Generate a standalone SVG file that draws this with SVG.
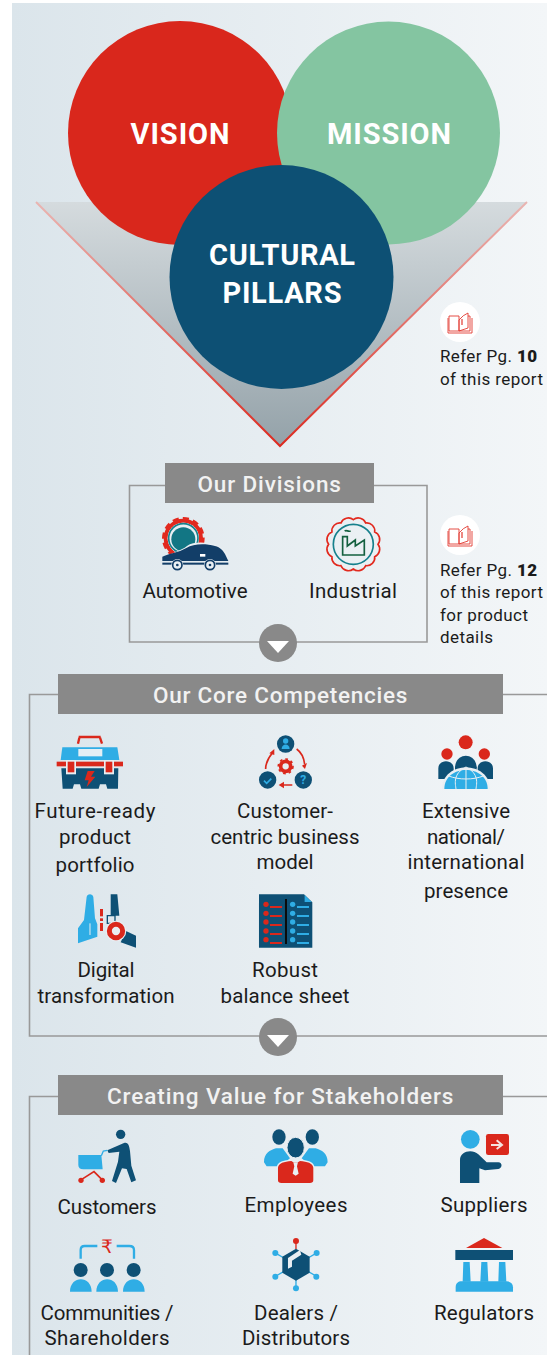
<svg xmlns="http://www.w3.org/2000/svg" width="547" height="1355" viewBox="0 0 547 1355">
<defs>
<linearGradient id="bg" x1="0" x2="1" y1="0" y2="0"><stop offset="0" stop-color="#dbe5eb"/><stop offset="1" stop-color="#f3f6f8"/></linearGradient>
<linearGradient id="tri" x1="0" x2="0" y1="0" y2="1"><stop offset="0" stop-color="#d5dbde"/><stop offset="1" stop-color="#94a2a9"/></linearGradient>
<linearGradient id="triS" x1="0" x2="0" y1="0" y2="1"><stop offset="0" stop-color="#e9b5b2"/><stop offset="1" stop-color="#dc2a20"/></linearGradient>
<g id="book" fill="none" stroke="#e23a31" stroke-width=".9"><path d="M-11 -7H-1V8H-11Z"/><path d="M-12 -5V10H12V-5"/><path d="M-1 8V-3Q3 -8 8 -10V5L-1 8M8 -7H10V8H-1"/><path d="M2 -4V2" stroke-width="1.2"/></g>
<g id="arrow"><circle r="19" fill="#898989"/><path d="M-11 -2H11L0 10Z" fill="#fff"/></g>
</defs>
<style>
text{font-family:"Roboto","Liberation Sans",sans-serif;fill:#1b1b1b;font-size:20.5px}
.m{text-anchor:middle}
.big{fill:#fff;font-weight:700;font-size:29px;text-anchor:middle}
.hd{fill:#f2f2f2;font-weight:500;font-size:22.5px;text-anchor:middle;letter-spacing:.6px}
.ref{font-size:17px}
.ref tspan{font-weight:900}
.bar{fill:#898989}
.line{fill:none;stroke:#999;stroke-width:1.6}
.dk{fill:#0e5075}.bl{fill:#2fade5}.rd{fill:#da281c}
</style>
<rect x="12" y="3" width="535" height="1352" fill="url(#bg)"/>

<g id="triangle"><path d="M36 202H527L280 446Z" fill="url(#tri)"/><path d="M36 202L280 446L527 202" fill="none" stroke="url(#triS)" stroke-width="2"/></g>
<g id="vision"><circle cx="180" cy="133" r="112" fill="#d9271c"/><text x="180" y="144" class="big" textLength="99">VISION</text></g>
<g id="mission"><circle cx="388.500" cy="133" r="111.500" fill="#84c5a1"/><text x="389" y="144" class="big" textLength="124">MISSION</text></g>
<g id="cultural-pillars"><circle cx="281.500" cy="277" r="112" fill="#0d5074"/><text x="282" y="265" class="big" textLength="146">CULTURAL</text><text x="282" y="303" class="big" textLength="119">PILLARS</text></g>

<g id="ref-10"><circle cx="460" cy="322" r="20" fill="#fff"/><use href="#book" x="460" y="323"/><text x="440" y="362" class="ref" textLength="97">Refer Pg. <tspan>10</tspan></text><text x="440" y="385" class="ref" textLength="103">of this report</text></g>

<g id="connectors">
<path class="line" d="M165 485.500H129.500V642H427V485.500H374"/>
<path class="line" d="M58 694.500H29.500V1036H547M503 694.500H547"/>
<path class="line" d="M58 1096.500H29.500V1355M503 1096.500H547"/>
<use href="#arrow" x="278" y="643"/>
<use href="#arrow" x="278" y="1037"/>
</g>

<g id="divisions"><rect class="bar" x="165" y="463" width="209" height="40"/><text x="269.500" y="492" class="hd" textLength="144">Our Divisions</text></g>
<g id="automotive"><g transform="translate(120 460) scale(.3333)">
<circle cx="190" cy="235" r="53" fill="none" stroke="#e2291e" stroke-width="12"/>
<circle cx="190" cy="235" r="58" fill="none" stroke="#e2291e" stroke-width="12" stroke-dasharray="18 12"/>
<circle cx="190" cy="235" r="47" fill="#e9eff3"/><circle cx="190" cy="235" r="44" fill="none" stroke="#16808c" stroke-width="5"/><circle cx="190" cy="238" r="36" fill="#127684"/>
<path d="M135 290c25-12 48-18 66-32 20-14 55-12 85-4 18 6 30 18 38 30v18H130z" fill="#e9eff3"/>
<path d="M127 303v-13c18-9 48-12 72-26 22-14 58-14 86-6 16 4 24 14 30 24l10 21z" fill="#123e68"/>
<rect x="240" y="282" width="16" height="8" fill="#fff"/><rect x="127" y="308" width="198" height="6" fill="#123e68"/>
<circle cx="172" cy="315" r="18" fill="#e9eff3"/><circle cx="172" cy="315" r="14" fill="none" stroke="#123e68" stroke-width="5"/><circle cx="172" cy="315" r="4" fill="#123e68"/>
<circle cx="270" cy="315" r="18" fill="#e9eff3"/><circle cx="270" cy="315" r="14" fill="none" stroke="#123e68" stroke-width="5"/><circle cx="270" cy="315" r="4" fill="#123e68"/>
</g><text x="195" y="598" class="m" textLength="105">Automotive</text></g>
<g id="industrial"><g transform="translate(120 460) scale(.3333)">
<path d="M774 253A24 24 0 0 1 764.100 290A24 24 0 0 1 737 317.100A24 24 0 0 1 700 327A24 24 0 0 1 663 317.100A24 24 0 0 1 635.900 290A24 24 0 0 1 626 253A24 24 0 0 1 635.900 216A24 24 0 0 1 663 188.900A24 24 0 0 1 700 179A24 24 0 0 1 737 188.900A24 24 0 0 1 764.100 216A24 24 0 0 1 774 253Z" fill="none" stroke="#e2291e" stroke-width="5"/>
<circle cx="700" cy="253" r="60" fill="none" stroke="#16808c" stroke-width="5"/>
<path d="M668 285V230H682V258L706 240V258L733 240V285Z M674 213c6-4 10 3 18 0" fill="none" stroke="#14603f" stroke-width="5"/>
</g><text x="353" y="598" class="m" textLength="88">Industrial</text></g>
<g id="ref-12"><circle cx="460" cy="535" r="20" fill="#fff"/><use href="#book" x="460" y="536"/><text x="440" y="576" class="ref" textLength="97">Refer Pg. <tspan>12</tspan></text><text x="440" y="598" class="ref" textLength="103">of this report</text><text x="440" y="621" class="ref" textLength="88">for product</text><text x="440" y="643" class="ref" textLength="53">details</text></g>

<g id="competencies"><rect class="bar" x="58" y="674" width="445" height="40"/><text x="280.500" y="703" class="hd" textLength="255">Our Core Competencies</text></g>
<g id="future-ready"><g transform="translate(20 725) scale(.3333)">
<path d="M176 36H242M178 38L174 56M240 38L246 56" fill="none" stroke="#da281c" stroke-width="7"/>
<path d="M127 67H292L298 105H122Z" class="bl"/><rect x="175" y="72" width="72" height="22" fill="#e4eff5"/>
<path d="M124 130H295L294 191H262L258 178H240L236 191H184L180 178H162L158 191H128Z" class="dk"/>
<rect x="110" y="110" width="199" height="14" class="rd"/><rect x="138" y="106" width="30" height="42" fill="#e9eff3"/><rect x="252" y="106" width="30" height="42" fill="#e9eff3"/><rect x="143" y="110" width="20" height="32" class="rd"/><rect x="257" y="110" width="20" height="32" class="rd"/>
<path d="M203 138H224L213 155H226L200 186L206 166H194Z" class="rd"/>
</g><text x="95" y="818" class="m" textLength="121">Future-ready</text><text x="95" y="844" class="m" textLength="72">product</text><text x="95" y="872" class="m" textLength="79">portfolio</text></g>
<g id="customer-centric"><g transform="translate(20 725) scale(.3333)">
<circle cx="797" cy="57" r="26" class="dk"/><circle cx="797" cy="48" r="8" class="bl"/><path d="M785 72c0-18 24-18 24 0z" class="bl"/>
<circle cx="743" cy="165" r="26" class="dk"/><path d="M732 167l8 8 14-14" fill="none" stroke="#2fade5" stroke-width="5"/>
<circle cx="850" cy="165" r="26" class="dk"/><text x="850" y="178" class="m" style="fill:#2fade5;font-size:36px;font-weight:700">?</text>
<circle cx="797" cy="124" r="15" fill="none" stroke="#da281c" stroke-width="11"/><circle cx="797" cy="124" r="22" fill="none" stroke="#da281c" stroke-width="5" stroke-dasharray="8 9"/>
<path d="M737 132c0-20 10-36 22-50M830 72c14 10 22 28 24 46M817 180H782" fill="none" stroke="#da281c" stroke-width="5"/>
<path d="M748 85l15-13 0 18zM846 122l15-8-6 18zM792 170v20l-16-10z" class="rd"/>
</g><text x="285" y="818" class="m" textLength="96">Customer-</text><text x="285" y="844" class="m" textLength="149">centric business</text><text x="285" y="869" class="m" textLength="57">model</text></g>
<g id="extensive"><g transform="translate(400 725) scale(.3333)">
<circle cx="197" cy="52" r="21" class="rd"/><circle cx="141" cy="87" r="17" class="rd"/><circle cx="253" cy="87" r="17" class="rd"/>
<path d="M165 130c0-50 65-50 65 0z" class="dk"/><path d="M115 162V130c0-28 46-28 46 0v32z M233 162V130c0-28 46-28 46 0v32z" class="dk"/><rect x="165" y="125" width="65" height="15" class="dk"/>
<path d="M126 192c0-86 144-86 144 0z" fill="#e9eff3"/><path d="M133 192c0-76 130-76 130 0z" class="bl"/>
<path d="M198 126V192M198 126c-40 20-32 50-30 66M198 126c40 20 32 50 30 66M146 153c30 12 74 12 104 0" fill="none" stroke="#e9eff3" stroke-width="3"/>
</g><text x="466" y="818" class="m" textLength="88">Extensive</text><text x="466" y="844" class="m" textLength="78">national/</text><text x="466" y="869" class="m" textLength="117">international</text><text x="466" y="898" class="m" textLength="84">presence</text></g>
<g id="digital"><g transform="translate(60 885) scale(.3333)">
<path d="M54 175V130L72 105L80 35C84 24 98 26 100 36L105 100L112 118V155Z" class="bl"/><path d="M90 115V150" stroke="#e9eff3" stroke-width="3"/>
<path d="M152 28H172L178 92H152Z" class="dk"/><rect x="120" y="72" width="9" height="22" class="rd"/><rect x="120" y="100" width="9" height="8" class="rd"/><rect x="120" y="114" width="9" height="24" class="rd"/>
<path d="M142 92H165V115H142Z" fill="none" stroke="#0e5075" stroke-width="4"/>
<path d="M198 138L228 152V188L182 172Z" class="dk"/>
<circle cx="168" cy="138" r="31" fill="#e9eff3"/><circle cx="168" cy="138" r="20" fill="none" stroke="#da281c" stroke-width="15"/>
</g><text x="106" y="977" class="m" textLength="57">Digital</text><text x="106" y="1003" class="m" textLength="137">transformation</text></g>
<g id="balance-sheet"><g transform="translate(60 885) scale(.3333)">
<path d="M597 28H732L757 52V188H597Z" class="dk"/><path d="M734 30L755 51H734Z" class="bl"/>
<rect x="675" y="42" width="6" height="135" fill="#0b0b0b"/>
<g class="rd"><circle cx="618" cy="58" r="8"/><circle cx="618" cy="85" r="8"/><circle cx="618" cy="111" r="8"/><circle cx="618" cy="138" r="8"/><circle cx="618" cy="164" r="8"/><rect x="630" y="63" width="36" height="6"/><rect x="630" y="90" width="36" height="6"/><rect x="630" y="117" width="36" height="6"/><rect x="630" y="144" width="36" height="6"/><rect x="630" y="171" width="36" height="6"/></g>
<g class="bl"><circle cx="698" cy="58" r="8"/><circle cx="698" cy="85" r="8"/><circle cx="698" cy="111" r="8"/><circle cx="698" cy="138" r="8"/><circle cx="698" cy="164" r="8"/><rect x="711" y="63" width="36" height="6"/><rect x="711" y="90" width="36" height="6"/><rect x="711" y="117" width="36" height="6"/><rect x="711" y="144" width="36" height="6"/><rect x="711" y="171" width="36" height="6"/></g>
</g><text x="285" y="977" class="m" textLength="66">Robust</text><text x="285" y="1003" class="m" textLength="129">balance sheet</text></g>

<g id="stakeholders"><rect class="bar" x="58" y="1075" width="445" height="40"/><text x="280.500" y="1104" class="hd" textLength="347">Creating Value for Stakeholders</text></g>
<g id="customers"><g transform="translate(60 1125) scale(.3333)">
<circle cx="182" cy="28" r="14" class="dk"/>
<path d="M142 76L192 54C202 50 208 58 210 78L214 122L228 166L214 172L200 132L186 130L168 174L156 168L174 110L178 80L146 84Z" class="dk"/>
<path d="M55 90H124L128 133H70C60 133 55 128 55 120Z" class="bl"/><path d="M124 92L130 78L142 76" fill="none" stroke="#2fade5" stroke-width="4"/>
<path d="M64 164L102 140L126 164" fill="none" stroke="#da281c" stroke-width="5"/><circle cx="63" cy="166" r="8" class="rd"/><circle cx="127" cy="166" r="8" class="rd"/>
</g><text x="107" y="1214" class="m" textLength="99">Customers</text></g>
<g id="employees"><g transform="translate(60 1125) scale(.3333)">
<ellipse cx="657" cy="36" rx="20" ry="23" class="dk"/><ellipse cx="757" cy="36" rx="20" ry="23" class="dk"/>
<path d="M612 112C612 84 630 76 648 70H668L690 100L660 124H620Z M803 112C803 84 785 76 767 70H747L725 100L755 124H795Z" class="bl"/>
<path d="M650 128C652 110 672 104 692 106H722C742 104 762 110 764 128V166C764 172 758 174 752 174H662C656 174 650 172 650 166Z" fill="#e9eff3"/>
<path d="M654 128C656 114 672 110 694 108L700 112L714 112L720 108C742 110 758 114 760 128V166C760 172 756 174 750 174H664C658 174 654 172 654 166Z" class="rd"/>
<ellipse cx="707" cy="68" rx="26" ry="31" class="dk" stroke="#e9eff3" stroke-width="3"/>
<path d="M700 112H714L711 124L716 146L707 152L698 146L703 124Z" fill="#e9eff3"/>
</g><text x="296" y="1212" class="m" textLength="103">Employees</text></g>
<g id="suppliers"><g transform="translate(430 1125) scale(.3333)">
<circle cx="121" cy="43" r="28" class="bl"/>
<path d="M90 174V105C90 80 125 70 145 88L170 112H205C218 112 218 130 205 132L165 136L148 130V174Z" class="dk"/>
<rect x="168" y="27" width="69" height="63" rx="7" class="rd"/><path d="M183 60H212M200 46L216 60L200 72" fill="none" stroke="#f5e4e0" stroke-width="6"/>
</g><text x="484" y="1212" class="m" textLength="87">Suppliers</text></g>
<g id="communities"><g transform="translate(60 1230) scale(.3333)">
<path d="M62 86V60Q62 48 74 48H112M170 48H208Q222 48 222 60V86" fill="none" stroke="#2fade5" stroke-width="7"/>
<text x="141" y="68" class="m" style="fill:#da281c;font-family:'DejaVu Sans',sans-serif;font-size:56px">₹</text>
<circle cx="62" cy="120" r="21" class="dk"/><circle cx="141" cy="120" r="21" class="dk"/><circle cx="221" cy="120" r="21" class="dk"/>
<path d="M30 185C30 135 95 135 95 185Z M109 185C109 135 174 135 174 185Z M189 185C189 135 254 135 254 185Z" class="bl"/>
</g><text x="107" y="1320" class="m" textLength="133">Communities /</text><text x="107" y="1345" class="m" textLength="125">Shareholders</text></g>
<g id="dealers"><g transform="translate(60 1230) scale(.3333)">
<path d="M648 70L672 84M768 70L744 84M648 138L672 124M768 138L744 124M708 150V175" stroke="#2fade5" stroke-width="4"/><path d="M708 36V58" stroke="#da281c" stroke-width="4"/>
<path d="M708 56L749 80V128L708 152L667 128V80Z" class="dk"/>
<path d="M720 60L684 84V116L696 110V92L724 74Z" fill="#e9eff3"/>
<circle cx="708" cy="33" r="9" class="rd"/><circle cx="646" cy="69" r="9" class="bl"/><circle cx="770" cy="69" r="9" class="bl"/><circle cx="646" cy="140" r="9" class="bl"/><circle cx="769" cy="140" r="9" class="bl"/><circle cx="708" cy="175" r="9" class="bl"/>
</g><text x="296" y="1320" class="m" textLength="84">Dealers /</text><text x="296" y="1345" class="m" textLength="108">Distributors</text></g>
<g id="regulators"><g transform="translate(430 1230) scale(.3333)">
<path d="M108 54L162 24L217 54Z" class="rd"/><rect x="76" y="60" width="173" height="30" class="dk"/>
<path d="M100 96H119L122 155H98Z M154 96H172L175 155H151Z M207 96H226L229 155H205Z" class="bl"/>
<path d="M77 172C77 160 85 154 95 154H230C240 154 249 160 249 172V185H77Z" class="bl"/>
</g><text x="484" y="1320" class="m" textLength="100">Regulators</text></g>
</svg>
